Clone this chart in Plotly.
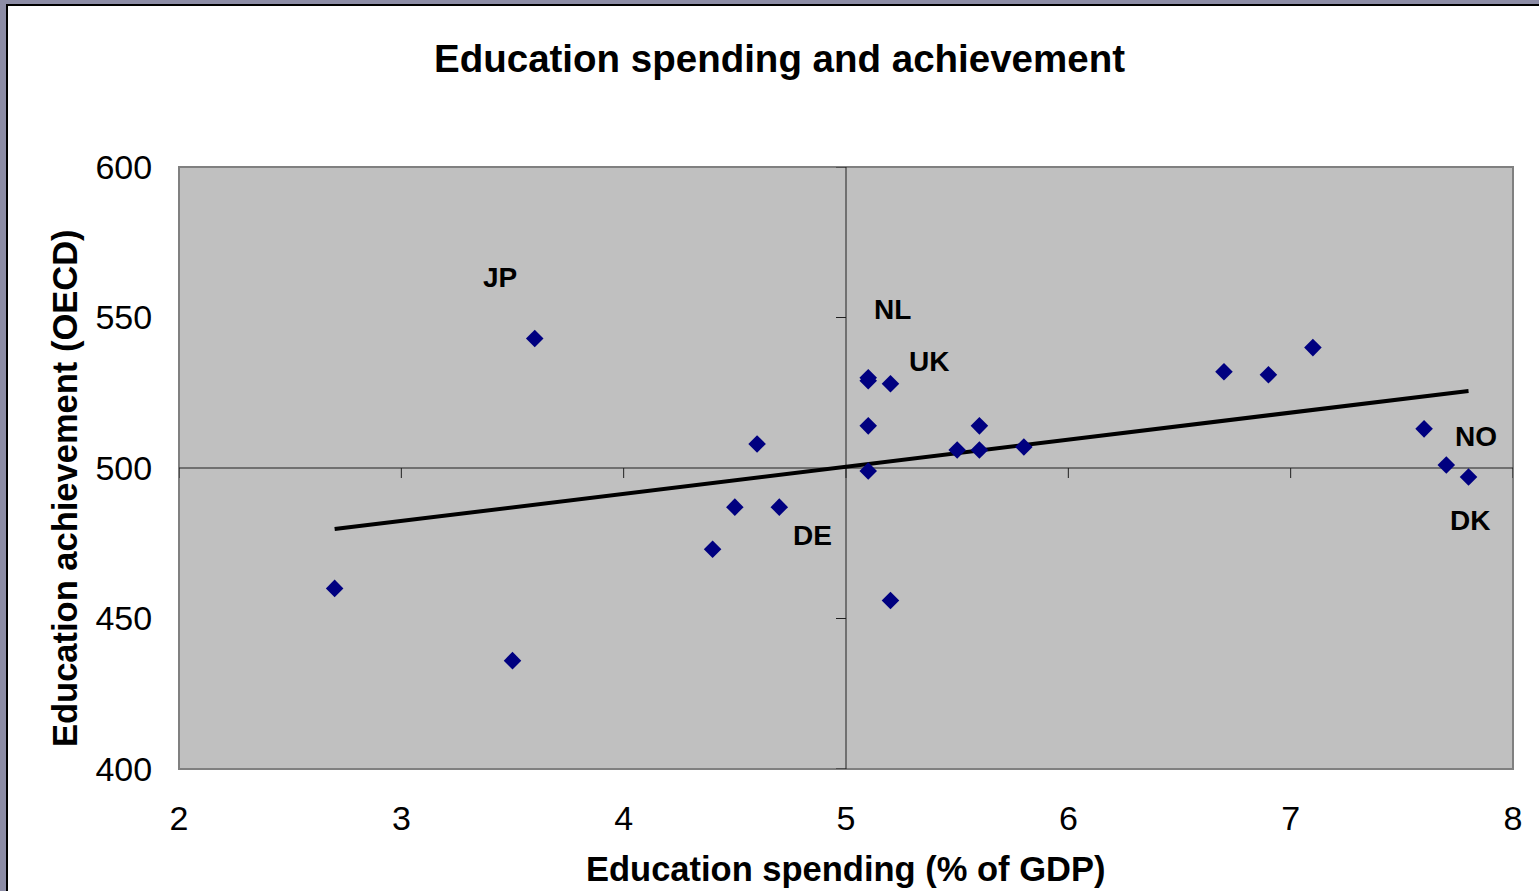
import plotly.graph_objects as go

# ---- data ----
spending = [2.7, 3.5, 3.6, 4.4, 4.5, 4.6, 4.7, 5.1, 5.1, 5.1, 5.1, 5.2, 5.2,
            5.5, 5.6, 5.6, 5.8, 6.7, 6.9, 7.1, 7.6, 7.7, 7.8]
achievement = [460, 436, 543, 473, 487, 508, 487, 530, 529, 514, 499, 528, 456,
               506, 514, 506, 507, 532, 531, 540, 513, 501, 497]

trend_x = [2.7, 7.8]
trend_y = [479.7, 525.6]

label_text = ["JP", "NL", "UK", "DE", "NO", "DK"]
label_x = [3.446, 5.211, 5.373, 4.850, 7.833, 7.807]
label_y = [563.3, 552.6, 535.5, 477.5, 510.4, 482.5]

x_ticks = [2, 3, 4, 5, 6, 7, 8]
y_ticks = [400, 450, 500, 550, 600]
cross_x = 5
cross_y = 500

title_text = "Education spending and achievement"
x_title = "Education spending (% of GDP)"
y_title = "Education achievement (OECD)"

FONT = "Liberation Sans, Arial, sans-serif"

# ---- figure ----
fig = go.Figure()

fig.add_trace(go.Scatter(
    x=trend_x, y=trend_y, mode="lines",
    line=dict(color="black", width=4),
    hoverinfo="skip", showlegend=False))

fig.add_trace(go.Scatter(
    x=spending, y=achievement, mode="markers",
    marker=dict(symbol="diamond", size=13.5, color="#000080",
                line=dict(width=0)),
    showlegend=False))

shapes = []
# white card with black edge
shapes.append(dict(type="rect", xref="paper", yref="paper", layer="below",
                   x0=(7 - 179) / 1334, x1=(1600 - 179) / 1334,
                   y0=(769 - 950) / 602, y1=(769 - 5) / 602,
                   fillcolor="white", line=dict(color="black", width=2)))
# grey plot area with frame
shapes.append(dict(type="rect", xref="paper", yref="paper", layer="below",
                   x0=0, x1=1, y0=0, y1=1,
                   fillcolor="#c0c0c0", line=dict(color="#808080", width=2)))
# crossing axes
shapes.append(dict(type="line", xref="x", yref="paper", layer="below",
                   x0=cross_x, x1=cross_x, y0=0, y1=1,
                   line=dict(color="#202020", width=1)))
shapes.append(dict(type="line", xref="paper", yref="y", layer="below",
                   x0=0, x1=1, y0=cross_y, y1=cross_y,
                   line=dict(color="#202020", width=1)))
for v in y_ticks:
    shapes.append(dict(type="line", xref="x", yref="y", layer="below",
                       xsizemode="pixel", xanchor=cross_x, x0=-10, x1=0,
                       y0=v, y1=v, line=dict(color="#202020", width=1)))
for v in x_ticks:
    shapes.append(dict(type="line", xref="x", yref="y", layer="below",
                       ysizemode="pixel", yanchor=cross_y, y0=-10, y1=0,
                       x0=v, x1=v, line=dict(color="#202020", width=1)))

annotations = []
for t, x, y in zip(label_text, label_x, label_y):
    annotations.append(dict(text="<b>" + t + "</b>", x=x, y=y, xref="x", yref="y",
                            showarrow=False, xanchor="center", yanchor="middle",
                            font=dict(family=FONT, size=28, color="black")))
annotations.append(dict(text="<b>" + title_text + "</b>", xref="paper", yref="paper",
                        x=(779 - 179) / 1334, y=(769 - 58) / 602,
                        showarrow=False, xanchor="center", yanchor="middle",
                        font=dict(family=FONT, size=38.5, color="black")))
annotations.append(dict(text="<b>" + x_title + "</b>", xref="paper", yref="paper",
                        x=(845 - 179) / 1334, y=(769 - 869) / 602,
                        showarrow=False, xanchor="center", yanchor="middle",
                        font=dict(family=FONT, size=34.5, color="black")))
annotations.append(dict(text="<b>" + y_title + "</b>", xref="paper", yref="paper",
                        x=(65 - 179) / 1334, y=(769 - 488) / 602, textangle=-90,
                        showarrow=False, xanchor="center", yanchor="middle",
                        font=dict(family=FONT, size=34.5, color="black")))

fig.update_layout(
    width=1539, height=891,
    margin=dict(l=179, r=26, t=167, b=122, pad=0),
    paper_bgcolor="#8d8da6",
    plot_bgcolor="rgba(0,0,0,0)",
    shapes=shapes,
    annotations=annotations,
    showlegend=False,
    font=dict(family=FONT, color="black"),
)
fig.update_xaxes(range=[2, 8], tickvals=x_ticks, ticktext=[str(v) for v in x_ticks],
                 showgrid=False, zeroline=False, showline=False,
                 ticks="outside", ticklen=19, tickcolor="rgba(0,0,0,0)",
                 tickfont=dict(family=FONT, size=34, color="black"))
fig.update_yaxes(range=[400, 600], tickvals=y_ticks, ticktext=[str(v) for v in y_ticks],
                 showgrid=False, zeroline=False, showline=False,
                 ticks="outside", ticklen=19, tickcolor="rgba(0,0,0,0)",
                 tickfont=dict(family=FONT, size=34, color="black"))

fig.write_html("out.html")
